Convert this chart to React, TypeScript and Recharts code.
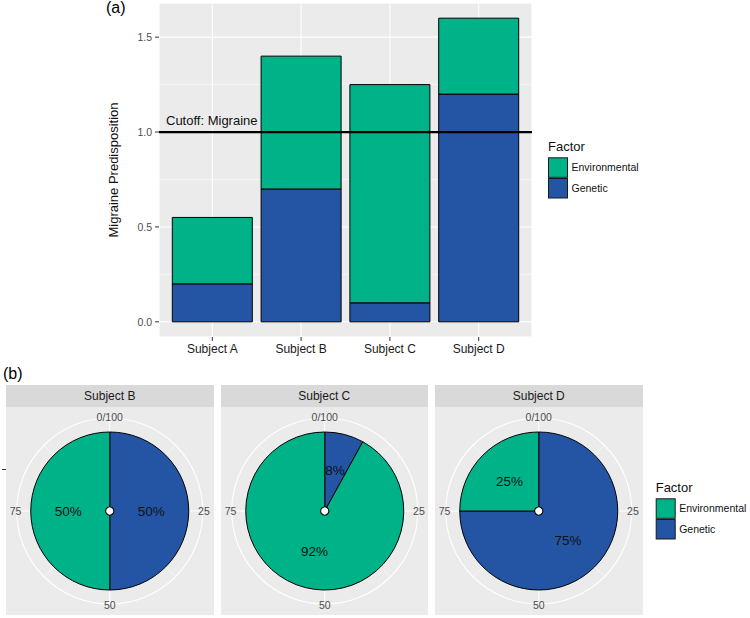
import React from 'react';
import {
  BarChart,
  Bar,
  XAxis,
  YAxis,
  CartesianGrid,
  ReferenceLine,
  PieChart,
  Pie,
  Cell,
  PolarAngleAxis,
  PolarGrid,
} from 'recharts';

// ---------- data ----------
const subjects = ['Subject A', 'Subject B', 'Subject C', 'Subject D'];
const geneticValues = [0.2, 0.7, 0.1, 1.2];
const environmentalValues = [0.35, 0.7, 1.15, 0.4];
const yTicks = [0, 0.5, 1.0, 1.5];
const yMinorTicks = [0.25, 0.75, 1.25];
const cutoffValue = 1.0;
const cutoffLabel = 'Cutoff: Migraine';

const pieSubjects = ['Subject B', 'Subject C', 'Subject D'];
const pieGenetic = [50, 8, 75];
const pieEnvironmental = [50, 92, 25];
const angleTickValues = [0, 25, 50, 75];
const angleTickLabels = ['0/100', '25', '50', '75'];
const angleMinorValues = [12.5, 37.5, 62.5, 87.5];

const factors = ['Environmental', 'Genetic'];

// ---------- style ----------
const FONT = '"Liberation Sans", Arial, Helvetica, sans-serif';
const GREEN = '#00B287';
const BLUE = '#2455A5';
const factorColors: Record<string, string> = { Environmental: GREEN, Genetic: BLUE };
const PANEL_BG = '#EBEBEB';
const STRIP_BG = '#D9D9D9';
const RAD = Math.PI / 180;

const toAngle = (v: number) => 90 - v * 3.6;

const barData = subjects.map((s, i) => ({
  subject: s,
  genetic: geneticValues[i],
  environmental: environmentalValues[i],
}));

// hidden ring whose slice mid-angles fall on the theta ticks
const tickSpan = angleTickValues[1] - angleTickValues[0];
const tickRingData = angleTickLabels.map((label) => ({ label, value: tickSpan }));
const tickRingStart = toAngle(-tickSpan / 2);

const renderPct = (p: any) => {
  const r = 41.5;
  const x = p.cx + r * Math.cos(-p.midAngle * RAD);
  const y = p.cy + r * Math.sin(-p.midAngle * RAD);
  return (
    <text x={x} y={y} textAnchor="middle" dominantBaseline="central" fontSize={13.5} fill="#111">
      {`${p.payload.value}%`}
    </text>
  );
};

const renderAngleTick = (p: any) => {
  const r = p.outerRadius + 1.2;
  const x = p.cx + r * Math.cos(-p.midAngle * RAD);
  const y = p.cy + r * Math.sin(-p.midAngle * RAD);
  return (
    <text x={x} y={y} textAnchor="middle" dominantBaseline="central" fontSize={10.5} fill="#4D4D4D">
      {p.payload.label}
    </text>
  );
};

function SubjectPie({ idx }: { idx: number }) {
  const data = [
    { name: 'Genetic', value: pieGenetic[idx] },
    { name: 'Environmental', value: pieEnvironmental[idx] },
  ];
  const dot = [{ name: 'center', value: 1 }];
  return (
    <PieChart
      width={207.5}
      height={208}
      margin={{ top: 0, right: 0, bottom: 0, left: 0 }}
      startAngle={90}
      endAngle={-270}
      outerRadius={93}
    >
      <PolarGrid
        gridType="circle"
        polarAngles={angleMinorValues.map(toAngle)}
        polarRadius={[]}
        stroke="#fff"
        strokeWidth={0.5}
      />
      <PolarGrid
        gridType="circle"
        polarAngles={angleTickValues.map(toAngle)}
        polarRadius={[]}
        stroke="#fff"
        strokeWidth={1}
      />
      <PolarAngleAxis
        type="number"
        axisLineType="circle"
        axisLine={{ stroke: '#fff', strokeWidth: 1.1 }}
        tickLine={false}
        tick={false}
      />
      <Pie
        data={tickRingData}
        dataKey="value"
        nameKey="label"
        outerRadius={93}
        startAngle={tickRingStart}
        endAngle={tickRingStart - 360}
        fill="none"
        stroke="none"
        isAnimationActive={false}
        label={renderAngleTick}
        labelLine={false}
      />
      <Pie
        data={data}
        dataKey="value"
        nameKey="name"
        outerRadius={79}
        startAngle={90}
        endAngle={-270}
        stroke="#000"
        strokeWidth={1}
        isAnimationActive={false}
        label={renderPct}
        labelLine={false}
      >
        {data.map((d) => (
          <Cell key={d.name} fill={factorColors[d.name]} />
        ))}
      </Pie>
      <Pie
        data={dot}
        dataKey="value"
        outerRadius={4.6}
        fill="#000"
        stroke="none"
        isAnimationActive={false}
      />
      <Pie
        data={dot}
        dataKey="value"
        outerRadius={3.6}
        fill="#fff"
        stroke="none"
        isAnimationActive={false}
      />
    </PieChart>
  );
}

function FactorLegend({ x, keyTop }: { x: number; keyTop: number }) {
  const row = 20.7;
  return (
    <g>
      <text x={x} y={keyTop - 6.3} fontSize={13} fill="#111">
        Factor
      </text>
      {factors.map((f, i) => (
        <g key={f}>
          <rect
            x={x + 0.5}
            y={keyTop + i * row + 0.5}
            width={19}
            height={19.5}
            fill={factorColors[f]}
            stroke="#1a1a1a"
            strokeWidth={1}
          />
          <text x={x + 23.5} y={keyTop + i * row + 14} fontSize={10.5} fill="#111">
            {f}
          </text>
        </g>
      ))}
    </g>
  );
}

const panelLefts = [6, 220.5, 435];

export default function App() {
  return (
    <div
      style={{
        position: 'absolute',
        left: 0,
        top: 0,
        width: 750,
        height: 618,
        background: '#fff',
        fontFamily: FONT,
        overflow: 'hidden',
      }}
    >
      <div style={{ position: 'absolute', left: 0, top: 0 }}>
        <BarChart
          width={540}
          height={367}
          data={barData}
          margin={{ top: 3, right: 8, bottom: 0, left: 0 }}
          barCategoryGap={4.4}
        >
          <CartesianGrid fill={PANEL_BG} stroke="#fff" strokeWidth={1.1} />
          <CartesianGrid yAxisId="minor" vertical={false} stroke="#fff" strokeWidth={0.5} />
          <XAxis
            dataKey="subject"
            padding={{ left: 8.9, right: 8.9 }}
            axisLine={false}
            tickLine={{ stroke: '#333' }}
            tickSize={4}
            tickMargin={3}
            tick={{ fill: '#1a1a1a', fontSize: 12 }}
            height={30}
            interval={0}
          />
          <YAxis
            type="number"
            domain={[-0.08, 1.68]}
            ticks={yTicks}
            tickFormatter={(v: number) => v.toFixed(1)}
            width={159}
            axisLine={false}
            tickLine={{ stroke: '#333' }}
            tickSize={4}
            tickMargin={3}
            tick={{ fill: '#4D4D4D', fontSize: 10.5 }}
            interval={0}
            allowDataOverflow
          />
          <YAxis
            yAxisId="minor"
            type="number"
            hide
            domain={[-0.08, 1.68]}
            ticks={yMinorTicks}
            interval={0}
            allowDataOverflow
          />
          <Bar dataKey="genetic" stackId="s" fill={BLUE} stroke="#000" strokeWidth={1} isAnimationActive={false} />
          <Bar
            dataKey="environmental"
            stackId="s"
            fill={GREEN}
            stroke="#000"
            strokeWidth={1}
            isAnimationActive={false}
          />
          <ReferenceLine
            y={cutoffValue}
            stroke="#000"
            strokeWidth={2.2}
            label={{ value: cutoffLabel, position: 'insideBottomLeft', offset: 7, fontSize: 13, fill: '#111' }}
          />
        </BarChart>
      </div>

      {pieSubjects.map((s, i) => (
        <React.Fragment key={s}>
          <div
            style={{
              position: 'absolute',
              left: panelLefts[i],
              top: 385,
              width: 207.5,
              height: 22,
              background: STRIP_BG,
              color: '#1a1a1a',
              fontSize: 12,
              lineHeight: '22px',
              textAlign: 'center',
            }}
          >
            {s}
          </div>
          <div
            style={{
              position: 'absolute',
              left: panelLefts[i],
              top: 407,
              width: 207.5,
              height: 208,
              background: PANEL_BG,
            }}
          >
            <SubjectPie idx={i} />
          </div>
        </React.Fragment>
      ))}

      <svg
        width={750}
        height={618}
        style={{ position: 'absolute', left: 0, top: 0, pointerEvents: 'none' }}
      >
        <text x={106} y={12.5} fontSize={16} fill="#000">
          (a)
        </text>
        <text x={3} y={378.5} fontSize={16} fill="#000">
          (b)
        </text>
        <text
          x={113}
          y={170}
          fontSize={13}
          fill="#111"
          textAnchor="middle"
          dominantBaseline="central"
          transform="rotate(-90, 113, 170)"
        >
          Migraine Predisposition
        </text>
        <line x1={2} x2={6} y1={469.5} y2={469.5} stroke="#333" strokeWidth={1} />
        <FactorLegend x={548} keyTop={157.3} />
        <FactorLegend x={655.7} keyTop={498.3} />
      </svg>
    </div>
  );
}
